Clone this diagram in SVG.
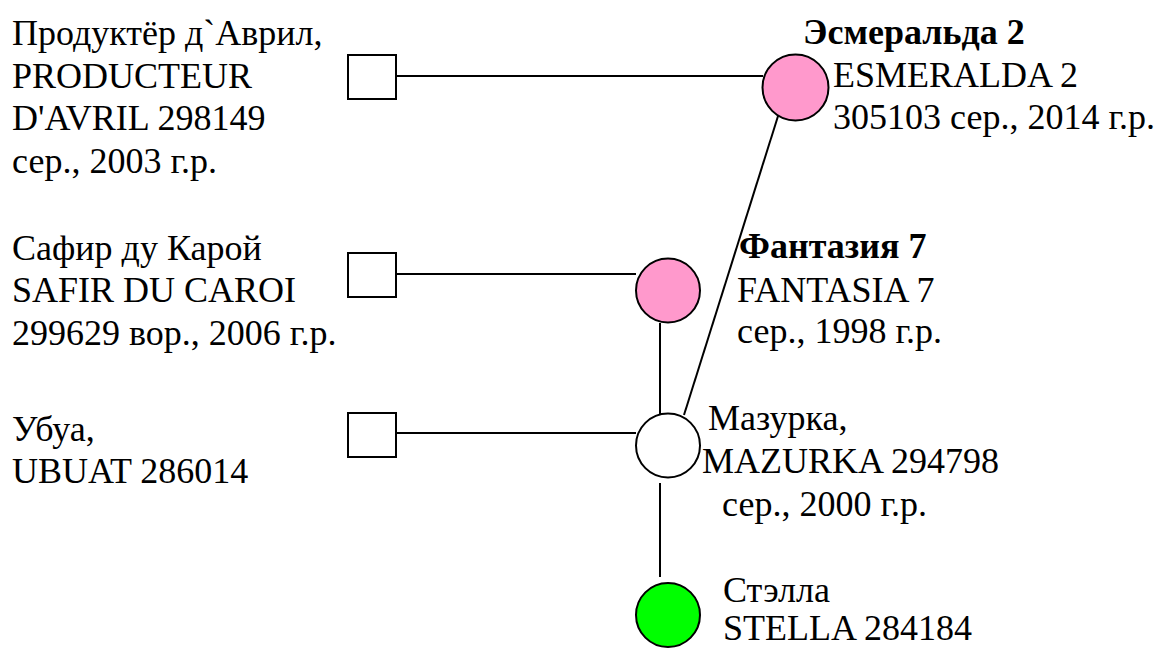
<svg xmlns="http://www.w3.org/2000/svg" width="1173" height="648" viewBox="0 0 1173 648">
<style>
text{font-family:"Liberation Serif","Times New Roman","DejaVu Serif",serif;font-size:36px;fill:#000}
.b{font-weight:bold}
.sq{fill:#fff;stroke:#000;stroke-width:2}
.c{stroke:#000;stroke-width:2}
.ln{stroke:#000;stroke-width:2;fill:none}
</style>
<rect width="1173" height="648" fill="#fff"/>
<g id="connectors">
<line class="ln" x1="396" y1="76" x2="763" y2="76"/>
<line class="ln" x1="396" y1="274" x2="636" y2="274"/>
<line class="ln" x1="396" y1="433" x2="636" y2="433"/>
<line class="ln" x1="779" y1="113" x2="684" y2="415"/>
<line class="ln" x1="660" y1="323" x2="660" y2="417"/>
<line class="ln" x1="660" y1="483" x2="660" y2="577"/>
</g>
<g id="producteur">
<rect class="sq" x="348" y="55" width="48" height="44"/>
<text x="12" y="45" font-family="Liberation Serif, serif">Продуктёр д`Аврил,</text>
<text x="12" y="88">PRODUCTEUR</text>
<text x="12" y="130">D'AVRIL 298149</text>
<text x="12" y="173">сер., 2003 г.р.</text>
</g>
<g id="esmeralda">
<circle class="c" cx="795.5" cy="87.5" r="33" fill="#FF99CC"/>
<text class="b" x="803" y="44">Эсмеральда 2</text>
<text x="833" y="87">ESMERALDA 2</text>
<text x="833" y="129">305103 сер., 2014 г.р.</text>
</g>
<g id="safir">
<rect class="sq" x="348" y="253" width="48" height="44"/>
<text x="12" y="260">Сафир ду Карой</text>
<text x="12" y="302">SAFIR DU CAROI</text>
<text x="12" y="345">299629 вор., 2006 г.р.</text>
</g>
<g id="fantasia">
<circle class="c" cx="668" cy="290.5" r="32" fill="#FF99CC"/>
<text class="b" x="739" y="258">Фантазия 7</text>
<text x="737" y="302">FANTASIA 7</text>
<text x="737" y="343">сер., 1998 г.р.</text>
</g>
<g id="ubuat">
<rect class="sq" x="348" y="413" width="48" height="44"/>
<text x="12" y="441">Убуа,</text>
<text x="12" y="483">UBUAT 286014</text>
</g>
<g id="mazurka">
<circle class="c" cx="668" cy="445.5" r="32" fill="#fff"/>
<text x="708" y="430">Мазурка,</text>
<text x="702" y="473">MAZURKA 294798</text>
<text x="722" y="516">сер., 2000 г.р.</text>
</g>
<g id="stella">
<circle class="c" cx="668" cy="615" r="32" fill="#00FF00"/>
<text x="723" y="602">Стэлла</text>
<text x="723" y="640">STELLA 284184</text>
</g>
</svg>
